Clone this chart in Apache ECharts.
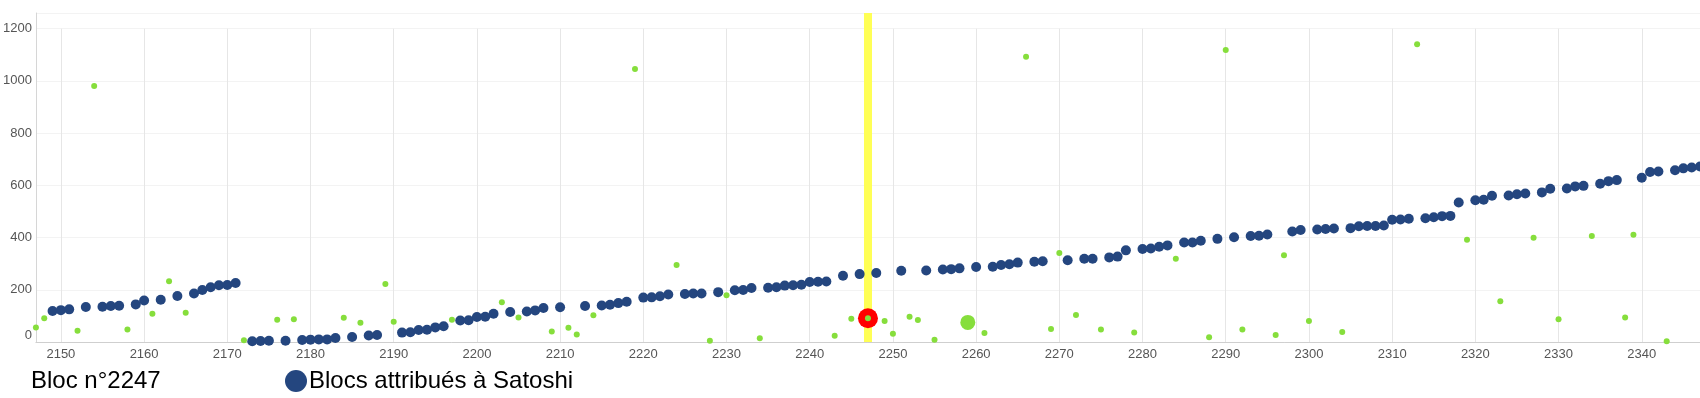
<!DOCTYPE html>
<html>
<head>
<meta charset="utf-8">
<script src="https://cdn.jsdelivr.net/npm/echarts@6/dist/echarts.min.js"></script>
<style>
html,body{margin:0;padding:0;background:#fff;}
#chart{width:1700px;height:398px;}
</style>
</head>
<body>
<div id="chart"></div>
<script>
// ---- data ----
const xTicks = [2150,2160,2170,2180,2190,2200,2210,2220,2230,2240,2250,2260,2270,2280,2290,2300,2310,2320,2330,2340];
const yTicks = [0,200,400,600,800,1000,1200];

const blueX = [2149,2150,2151,2153,2155,2156,2157,2159,2160,2162,2164,2166,2167,2168,2169,2170,2171,
  2173,2174,2175,2177,2179,2180,2181,2182,2183,2185,2187,2188,
  2191,2192,2193,2194,2195,2196,2198,2199,2200,2201,2202,2204,2206,2207,2208,2210,2213,2215,2216,2217,2218,
  2220,2221,2222,2223,2225,2226,2227,2229,2231,2232,2233,2235,2236,2237,2238,2239,2240,2241,2242,2244,2246,2248,
  2251,2254,2256,2257,2258,2260,2262,2263,2264,2265,2267,2268,2271,2273,2274,2276,2277,2278,2280,2281,2282,2283,
  2285,2286,2287,2289,2291,2293,2294,2295,2298,2299,2301,2302,2303,2305,2306,2307,2308,2309,2310,2311,2312,
  2314,2315,2316,2317,2318,2320,2321,2322,2324,2325,2326,2328,2329,2331,2332,2333,2335,2336,2337,2340,2341,2342,
  2344,2345,2346,2347];
const blueY = [119,122,125,134,135,138,139,144,159,162,176,186,199,210,217,218,226,
  3,4,5,5,8,9,10,10,15,19,25,27,
  36,37,46,47,56,60,82,83,96,97,108,115,117,121,130,133,138,140,143,149,154,
  170,171,175,182,184,186,186,191,198,199,207,208,210,216,217,219,230,231,232,254,260,264,
  273,274,278,279,282,287,288,295,298,304,307,309,313,319,319,324,327,351,356,358,365,370,
  381,381,388,395,401,406,407,412,423,429,431,433,435,436,443,444,444,446,468,469,472,
  474,478,482,483,534,543,545,560,561,566,569,573,587,588,596,598,606,616,620,629,651,653,
  658,665,668,672];

const greenX = [2147,2148,2152,2154,2158,2161,2163,2165,2172,2176,2178,2184,2186,2189,2190,2197,2203,2205,2209,2211,
  2212,2214,2219,2224,2228,2230,2234,2243,2245,2247,2249,2250,2252,2253,2255,2261,2266,2269,2270,2272,2275,2279,
  2284,2288,2290,2292,2296,2297,2300,2304,2313,2319,2323,2327,2330,2334,2338,2339,2343];
const greenY = [56,91,43,980,48,108,233,112,7,85,87,93,74,222,78,85,152,94,40,55,
  29,102,1046,295,5,179,14,24,89,91,80,32,97,84,9,34,1092,50,341,103,48,36,
  319,18,1118,48,27,332,80,38,1140,392,156,399,87,406,94,411,3];

const bigGreenX = [2259];
const bigGreenY = [75];

const selectedBlock = 2247;
const selectedValue = 91;

const legendName = 'Blocs attribués à Satoshi';
const captionText = 'Bloc n°2247';

// ---- build ----
const zip = (xs, ys) => xs.map((x, i) => [x, ys[i]]);
const chart = echarts.init(document.getElementById('chart'), null, {renderer: 'canvas'});
const font = "'Liberation Sans', Arial, sans-serif";
const yTop = yTicks[yTicks.length - 1];

chart.setOption({
  animation: false,
  backgroundColor: '#ffffff',
  grid: {left: 33, right: 0, top: 13, bottom: 56, containLabel: false},
  legend: {
    data: [{name: legendName, icon: 'circle'}],
    left: 280, top: 364,
    itemWidth: 22, itemHeight: 22, itemGap: 10,
    selectedMode: false,
    textStyle: {fontFamily: font, fontSize: 24, color: '#000', padding: [0,0,0,-3]}
  },
  graphic: [{
    type: 'text', left: 31, top: 369, silent: true,
    style: {text: captionText, fontFamily: font, fontSize: 24, fill: '#000'}
  }],
  xAxis: {
    type: 'value', min: 2147, max: 2347,
    axisLine: {show: true, lineStyle: {color: '#cfcfcf'}},
    axisTick: {show: false, customValues: xTicks},
    axisLabel: {customValues: xTicks, fontFamily: font, fontSize: 13, color: '#555', margin: 6,
      formatter: v => String(v)},
    splitLine: {show: false}
  },
  yAxis: {
    type: 'value', min: 0, max: 1260, interval: 200,
    axisLine: {show: true, lineStyle: {color: '#d6d6d6'}},
    axisTick: {show: false},
    axisLabel: {
      fontFamily: font, fontSize: 13, color: '#555', margin: 4,
      verticalAlignMinLabel: 'bottom',
      formatter: v => (yTicks.indexOf(v) >= 0 ? String(v) : '')
    },
    splitLine: {show: true, lineStyle: {color: '#f3f3f3'}}
  },
  series: [
    {
      name: 'vgrid', type: 'scatter', data: [], z: 0, silent: true,
      markLine: {
        silent: true, z: 0, symbol: ['none', 'none'], label: {show: false},
        lineStyle: {color: '#e6e6e6', width: 1, type: 'solid', opacity: 1},
        emphasis: {disabled: true},
        data: xTicks.map(t => [{coord: [t, 0]}, {coord: [t, yTop]}])
      }
    },
    {
      name: 'band', type: 'scatter', data: [], z: 1, silent: true,
      markLine: {
        silent: true, z: 1, symbol: ['none', 'none'], label: {show: false},
        lineStyle: {color: '#ffff55', width: 8, type: 'solid', opacity: 1},
        emphasis: {disabled: true},
        data: [{xAxis: selectedBlock}]
      }
    },
    {
      name: 'selected', type: 'scatter', z: 6, silent: true,
      symbol: 'circle', symbolSize: 20,
      itemStyle: {color: '#ff0000', opacity: 1},
      data: [[selectedBlock, selectedValue]]
    },
    {
      name: legendName, type: 'scatter', z: 7,
      symbol: 'circle', symbolSize: 10,
      itemStyle: {color: '#24467f', opacity: 1},
      data: zip(blueX, blueY)
    },
    {
      name: 'others', type: 'scatter', z: 8,
      symbol: 'circle', symbolSize: 6,
      itemStyle: {color: '#86de3c', opacity: 1},
      data: zip(greenX, greenY)
    },
    {
      name: 'big', type: 'scatter', z: 8,
      symbol: 'circle', symbolSize: 15,
      itemStyle: {color: '#86de3c', opacity: 1},
      data: zip(bigGreenX, bigGreenY)
    }
  ]
});
</script>
</body>
</html>
